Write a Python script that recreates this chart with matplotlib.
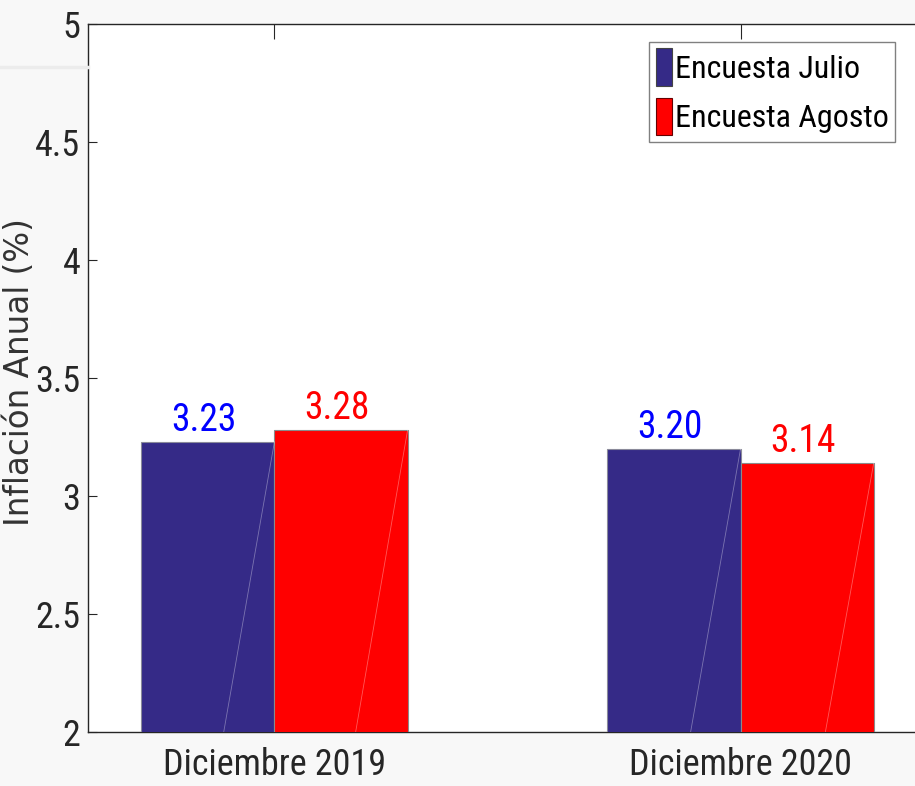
import numpy as np
import matplotlib.pyplot as plt
from matplotlib.patches import Patch
from matplotlib.lines import Line2D

categorias = ['Diciembre 2019', 'Diciembre 2020']
julio = [3.23, 3.20]
agosto = [3.28, 3.14]
series_names = ['Encuesta Julio', 'Encuesta Agosto']
yticks = [2, 2.5, 3, 3.5, 4, 4.5, 5]

c_julio = '#352a87'
c_agosto = '#ff0000'
narrow = ['Roboto Condensed', 'DejaVu Sans']

plt.rcParams['font.family'] = narrow

fig = plt.figure(figsize=(9.15, 7.86), dpi=100, facecolor='#f8f8f8')
# axes runs a bit past the right edge of the picture, like the original
ax = fig.add_axes([88/915, 54/786, 839/915, 708/786])
ax.set_facecolor('white')

# faint band left of the axes
fig.add_artist(Line2D([0, 88/915], [1-66.5/786, 1-66.5/786], color='#ececec', lw=2.5))

x = np.arange(1, len(categorias)+1)
w = 2/7
b1 = ax.bar(x - w/2, julio, w, color=c_julio, edgecolor='#8a8a9a', lw=0.8, zorder=3)
b2 = ax.bar(x + w/2, agosto, w, color=c_agosto, edgecolor='#8a8a8a', lw=0.8, zorder=3)

# the faint diagonal seams inside the bars
for xs, vals in [(x - w/2, julio), (x + w/2, agosto)]:
    for xi, v in zip(xs, vals):
        ax.plot([xi - w/2, xi + w/2], [0, v], color='white', alpha=0.35, lw=0.6, zorder=4)

for xs, vals, col in [(x - w/2, julio, '#0000ff'), (x + w/2, agosto, c_agosto)]:
    for xi, v in zip(xs, vals):
        ax.annotate('%.2f' % v, (xi, v), xytext=(-3, 8), textcoords='offset points',
                    ha='center', va='baseline', color=col, fontsize=27)

ax.set_xlim(0.6, 2.4)
ax.set_ylim(2, 5)
ax.set_yticks(yticks)
ax.set_yticklabels(['%g' % t for t in yticks])
ax.set_xticks(x)
ax.set_xticklabels(categorias)

ax.tick_params(axis='y', direction='in', length=6.5, width=0.8, pad=5.5,
               labelsize=26, colors='#262626')
ax.tick_params(axis='x', direction='in', length=10.8, width=0.8, pad=11,
               labelsize=26, colors='#262626', top=True)
for s in ax.spines.values():
    s.set_color('#262626')
    s.set_linewidth(1)

yl = ax.set_ylabel('Inflación Anual (%)', fontsize=23.5, color='#333333', family='DejaVu Sans')
ax.yaxis.set_label_coords((20-88)/839, (732-372)/708)
yl.set_va('center')

handles = [Patch(facecolor=c_julio, edgecolor='#444444', lw=0.8),
           Patch(facecolor=c_agosto, edgecolor='#660000', lw=0.8)]
leg = ax.legend(handles, series_names, loc='upper right',
                bbox_to_anchor=(895/915, 1-42/786), bbox_transform=fig.transFigure,
                borderaxespad=0, fontsize=23, handlelength=0.5, handleheight=1.45,
                handletextpad=0.1, labelspacing=0.35, borderpad=0.2,
                fancybox=False, framealpha=1)
leg.get_frame().set_edgecolor('#808080')
leg.get_frame().set_linewidth(1)

fig.savefig('out.png', dpi=100, facecolor=fig.get_facecolor())
